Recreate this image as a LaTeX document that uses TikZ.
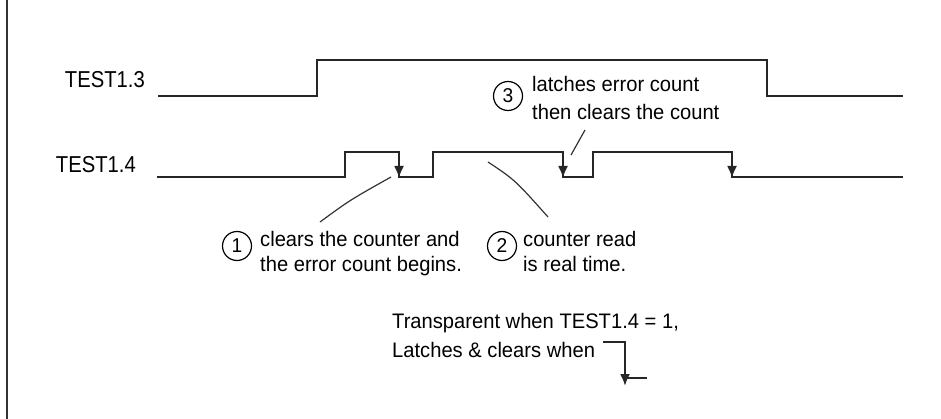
\documentclass[tikz,border=0pt]{standalone}
\usepackage{fontspec}
\setmainfont{Liberation Sans}[FakeStretch=0.96]
\newfontfamily\sigfont{Liberation Sans}[FakeStretch=0.88]
\usetikzlibrary{arrows.meta}
\tikzset{
  wave/.style={line width=2.1pt, black!85},
  fall/.style={line width=2.1pt, black!85, -{Latex[length=12pt,width=10pt]}},
  lead/.style={line width=1.2pt, black!80},
  note/.style={anchor=west, align=left, inner sep=0pt},
  sig/.style={anchor=base east, inner sep=0pt, font=\sigfont\fontsize{23}{23}\selectfont},
  num/.style={circle, draw, line width=1.2pt, minimum size=29pt, inner sep=0pt,
    font=\fontsize{20}{20}\selectfont},
}
\begin{document}
\begin{tikzpicture}[x=1pt,y=-1pt,font=\fontsize{21}{25}\selectfont]
  \useasboundingbox (0,0) rectangle (941,419);
  % Coordinates
  \coordinate (top) at (7,0);
  \coordinate (bot) at (7,419);
  \coordinate (A0) at (158,96);
  \coordinate (A1) at (317,96);
  \coordinate (A2) at (317,60);
  \coordinate (A3) at (767,60);
  \coordinate (A4) at (767,96);
  \coordinate (A5) at (903,96);
  \coordinate (B0) at (157,177);
  \coordinate (B1) at (345,177);
  \coordinate (B2) at (345,152);
  \coordinate (B3) at (399,152);
  \coordinate (B4) at (399,177);
  \coordinate (B5) at (433,177);
  \coordinate (B6) at (433,152);
  \coordinate (B7) at (563,152);
  \coordinate (B8) at (563,177);
  \coordinate (B9) at (593,177);
  \coordinate (B10) at (593,152);
  \coordinate (B11) at (732,152);
  \coordinate (B12) at (732,177);
  \coordinate (B13) at (903,177);
  \coordinate (S0) at (603,342);
  \coordinate (S1) at (625,342);
  \coordinate (S2) at (625,378);
  \coordinate (S3) at (647,378);
  % Labels
  \node[sig] (t13) at (145,88) {TEST1.3};
  \node[sig] (t14) at (136,173) {TEST1.4};
  \node[num] (n1) at (237,246) {1};
  \node[note] (c1) at (260,253.5) {clears the counter and\\the error count begins.};
  \node[num] (n2) at (502,246) {2};
  \node[note] (c2) at (523,251) {counter read\\is real time.};
  \node[num] (n3) at (508,96) {3};
  \node[note, font=\fontsize{21}{28}\selectfont] (c3) at (532,98) {latches error count\\then clears the count};
  \node[note, font=\fontsize{21}{29}\selectfont] (c4) at (392,335) {Transparent when TEST1.4 = 1,\\Latches \& clears when};
  % Leader ends
  \coordinate (L1a) at (320,222);
  \coordinate (L1b) at (391,177);
  \coordinate (L2a) at (548,217);
  \coordinate (L2b) at (488,162);
  \coordinate (L3a) at (585,130);
  \coordinate (L3b) at (571,155);

  % draw the signals
  \draw[line width=1.6pt, black!80] (top) -- (bot);
  \draw[wave] (A0) -- (A1) -- (A2) -- (A3) -- (A4) -- (A5);
  \draw[wave] (B0) -- (B1) -- (B2) -- (B3) -- (B4) -- (B5) -- (B6) -- (B7)
    -- (B8) -- (B9) -- (B10) -- (B11) -- (B12) -- (B13);
  \draw[fall] (B3) -- ([yshift=-1pt]B4);
  \draw[fall] (B7) -- ([yshift=-1pt]B8);
  \draw[fall] (B11) -- ([yshift=-1pt]B12);
  \draw[wave] (S0) -- (S1) -- (S2) -- (S3);
  \draw[fall] (S1) -- ([yshift=-8pt]S2);

  % draw the leaders
  \draw[lead] (L1a) .. controls (350,200) .. (L1b);
  \draw[lead] (L2a) .. controls (515,180) .. (L2b);
  \draw[lead] (L3a) -- (L3b);
\end{tikzpicture}
\end{document}
